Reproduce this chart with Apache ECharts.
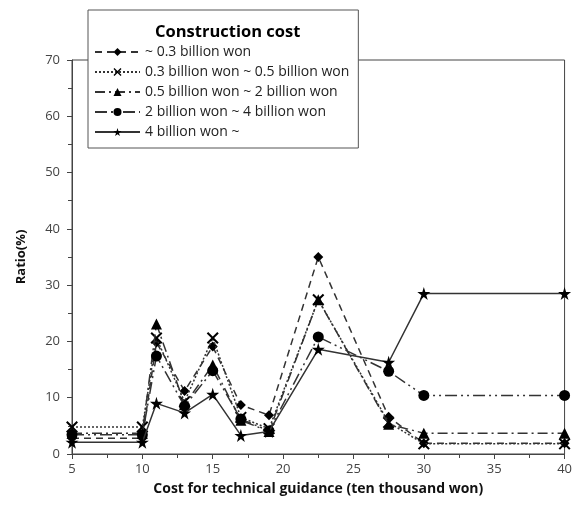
<!DOCTYPE html>
<html>
<head>
<meta charset="utf-8">
<script src="https://cdn.jsdelivr.net/npm/echarts@6/dist/echarts.min.js"></script>
<style>html,body{margin:0;padding:0;background:#fff}#c{width:575px;height:505px}</style>
</head>
<body>
<div id="c"></div>
<script>
const xValues = [5, 10, 11, 13, 15, 17, 19, 22.5, 27.5, 30, 40];
const seriesNames = ['~ 0.3 billion won', '0.3 billion won ~ 0.5 billion won', '0.5 billion won ~ 2 billion won', '2 billion won ~ 4 billion won', '4 billion won ~'];
const s1 = [2.8, 2.8, 19.8, 11.2, 19.1, 8.7, 6.9, 35.0, 6.6, 1.9, 1.9];
const s2 = [4.8, 4.8, 20.6, 9.3, 20.6, 6.5, 4.5, 27.4, 5.6, 1.8, 1.8];
const s3 = [3.7, 3.7, 23.1, 8.8, 15.8, 6.0, 4.0, 27.4, 5.3, 3.7, 3.7];
const s4 = [3.4, 3.4, 17.4, 8.5, 14.8, 6.2, 4.1, 20.8, 14.7, 10.4, 10.4];
const s5 = [2.1, 2.1, 9.0, 7.3, 10.6, 3.3, 4.0, 18.6, 16.3, 28.5, 28.5];
const xTicks = {min: 5, max: 40, interval: 5};
const yTicks = {min: 0, max: 70, interval: 10};

const STAR = 'path://M50,0 L61,35 L98,35 L68,57 L79,91 L50,70 L21,91 L32,57 L2,35 L39,35 Z';
const XMARK = 'path://M0,12 L12,0 L50,38 L88,0 L100,12 L62,50 L100,88 L88,100 L50,62 L12,100 L0,88 L38,50 Z';

const all = [s1, s2, s3, s4, s5];
const styles = [
  {symbol: 'diamond', size: 10, type: [7, 5]},
  {symbol: XMARK, size: 12, type: [2, 2]},
  {symbol: 'triangle', size: 11, type: [10, 4, 2, 4]},
  {symbol: 'circle', size: 11, type: [12, 4, 2, 4, 2, 4]},
  {symbol: STAR, size: 13, type: 'solid'}
];
const font = '"Open Sans", sans-serif';
const chart = echarts.init(document.getElementById('c'), null, {renderer: 'canvas'});
chart.setOption({
  animation: false,
  backgroundColor: '#fff',
  textStyle: {fontFamily: font},
  title: {
    text: 'Construction cost', left: 150, top: 19, z: 10,
    textStyle: {fontFamily: font, fontSize: 16.5, fontWeight: 'bold', color: '#000'}
  },
  legend: {
    orient: 'vertical', left: 88, top: 10, z: 5,
    padding: [35, 9, 9, 6],
    backgroundColor: '#fff', borderColor: '#555', borderWidth: 1,
    itemWidth: 45, itemHeight: 10, itemGap: 6,
    textStyle: {fontFamily: font, fontSize: 14, color: '#222'},
    data: seriesNames
  },
  grid: {left: 72, right: 5, top: 60, bottom: 51, show: true, borderColor: '#444', borderWidth: 1},
  xAxis: {
    type: 'value', min: xTicks.min, max: xTicks.max, interval: xTicks.interval,
    name: 'Cost for technical guidance (ten thousand won)', nameLocation: 'middle', nameGap: 28,
    nameTextStyle: {fontFamily: font, fontSize: 14, fontWeight: 'bold', color: '#111'},
    axisLine: {lineStyle: {color: '#444'}},
    axisTick: {lineStyle: {color: '#444'}, length: 5},
    minorTick: {show: true, splitNumber: 2, length: 4, lineStyle: {color: '#444'}},
    splitLine: {show: false},
    axisLabel: {fontFamily: font, fontSize: 13, color: '#444', margin: 9}
  },
  yAxis: {
    type: 'value', min: yTicks.min, max: yTicks.max, interval: yTicks.interval,
    name: 'Ratio(%)', nameLocation: 'middle', nameGap: 44, nameRotate: 90,
    nameTextStyle: {fontFamily: font, fontSize: 13, fontWeight: 'bold', color: '#111'},
    axisLine: {show: true, lineStyle: {color: '#444'}},
    axisTick: {show: true, lineStyle: {color: '#444'}, length: 5},
    minorTick: {show: true, splitNumber: 2, length: 4, lineStyle: {color: '#444'}},
    splitLine: {show: false},
    axisLabel: {fontFamily: font, fontSize: 13, color: '#444', margin: 12}
  },
  series: all.map((d, i) => ({
    name: seriesNames[i], type: 'line',
    data: xValues.map((x, j) => [x, d[j]]),
    symbol: styles[i].symbol, symbolSize: styles[i].size,
    showAllSymbol: true,
    itemStyle: {color: '#000'},
    lineStyle: {color: '#333', width: 1.5, type: styles[i].type},
    z: 3 + i
  }))
});
</script>
</body>
</html>
